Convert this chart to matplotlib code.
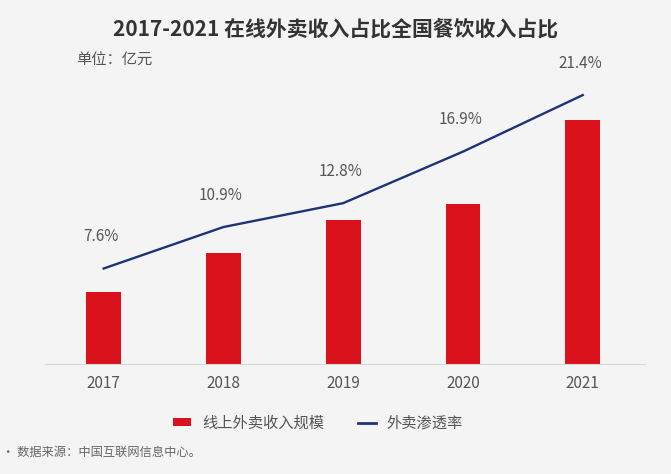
import numpy as np
import matplotlib.pyplot as plt
from matplotlib.patches import Patch
from matplotlib.lines import Line2D

plt.rcParams['font.family'] = ['Noto Sans CJK SC', 'DejaVu Sans']

years = ['2017', '2018', '2019', '2020', '2021']
revenue = [2960, 4560, 5920, 6580, 10030]   # 亿元
share = [7.6, 10.9, 12.8, 16.9, 21.4]       # %
share_labels = ['7.6%', '10.9%', '12.8%', '16.9%', '21.4%']

BG = '#f4f4f4'
RED = '#d9121b'
NAVY = '#1e3278'
GREY = '#555555'

fig = plt.figure(figsize=(6.71, 4.74), dpi=100, facecolor=BG)
# plot area: x 45..645 px, y 80..364 px (from top)
ax = fig.add_axes([45 / 671, 110 / 474, 600 / 671, 284 / 474])
ax.set_facecolor(BG)
x = np.arange(len(years))

ax.bar(x, revenue, width=0.29, color=RED, zorder=2)
ax.set_xlim(-0.49, 4.52)
ax.set_ylim(0, 11670)
ax.set_xticks(x)
ax.set_xticklabels(years, fontsize=11, color=GREY)
ax.tick_params(axis='x', length=0, pad=8)
ax.set_yticks([])
for s in ['top', 'right', 'left']:
    ax.spines[s].set_visible(False)
ax.spines['bottom'].set_color('#d8d8d8')

ax2 = ax.twinx()
ax2.plot(x, share, color=NAVY, linewidth=1.7, zorder=3)
ax2.set_ylim(0, 22.6)
ax2.set_yticks([])
for s in ['top', 'right', 'left', 'bottom']:
    ax2.spines[s].set_visible(False)
for xi, v, lab in zip(x, share, share_labels):
    ax2.annotate(lab, (xi, v), xytext=(-2, 23), textcoords='offset points',
                 ha='center', va='center', fontsize=11, color=GREY)

fig.text(0.5, 1 - 30 / 474, '2017-2021 在线外卖收入占比全国餐饮收入占比',
         ha='center', va='center', fontsize=15, fontweight='bold', color='#333333')
fig.text(76 / 671, 1 - 60 / 474, '单位：亿元', ha='left', va='center',
         fontsize=11, color=GREY)

handles = [Patch(facecolor=RED, edgecolor='none'),
           Line2D([0], [0], color=NAVY, linewidth=2)]
fig.legend(handles, ['线上外卖收入规模', '外卖渗透率'], loc='center',
           bbox_to_anchor=(318 / 671, 1 - 423 / 474), ncol=2, frameon=False,
           fontsize=11, labelcolor=GREY, columnspacing=2.2,
           handlelength=1.2, handleheight=0.45, handletextpad=0.7)

fig.text(2 / 671, 1 - 452 / 474, '• 数据来源：中国互联网信息中心。', ha='left', va='center',
         fontsize=8.8, color='#666666')

fig.savefig('out.png', dpi=100, facecolor=BG)
